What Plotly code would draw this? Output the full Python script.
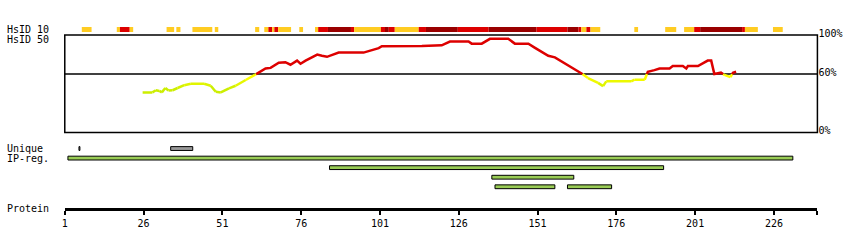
import plotly.graph_objects as go

# ---------------- data ----------------
# identity profile (HsID 50) breakpoints: residue, percent
prof_res = [25.7, 28.8, 29.9, 31.0, 31.8, 32.9, 33.9, 35.2, 36.8, 38.9, 41.0, 45.2, 47.3, 48.9,
            50.5, 53.1, 55.2, 58.4, 61.3, 62.6, 64.7, 66.3, 68.9, 71.0, 72.6, 74.7, 75.8, 77.4,
            81.1, 82.6, 84.2, 87.9, 95.8, 100.6, 101.6, 114.3, 120.6, 123.2, 129.1, 130.1, 133.3,
            135.9, 141.7, 143.8, 148.1, 150.2, 154.4, 156.5, 160.7, 164.9, 167.0, 170.2, 171.8,
            172.8, 180.7, 181.8, 185.0, 186.0, 188.1, 189.7, 192.9, 193.9, 197.1, 198.2, 198.7,
            201.9, 205.0, 206.1, 207.1, 208.7, 209.2, 210.3, 212.2, 213.0, 214.0]
prof_val = [41.2, 41.2, 43.4, 42.7, 41.2, 45.7, 43.1, 43.4, 45.7, 48.6, 50.0, 50.0, 48.0, 41.8,
            41.2, 45.4, 48.0, 53.9, 59.1, 61.8, 65.7, 66.3, 71.6, 72.2, 69.6, 73.8, 70.6, 73.8,
            80.0, 78.7, 77.7, 82.0, 82.0, 86.6, 88.5, 88.8, 89.5, 93.4, 93.4, 91.2, 91.2,
            96.1, 96.1, 91.2, 91.2, 86.9, 78.7, 77.1, 68.9, 60.8, 55.9, 51.0, 47.6,
            52.5, 52.5, 54.2, 54.2, 62.4, 64.0, 65.7, 65.7, 68.2, 68.2, 65.7, 68.2,
            68.2, 73.8, 73.8, 60.1, 60.8, 61.4, 59.1, 56.9, 61.4, 62.4]
threshold = 60

# HsID 10 strip: start, end, level (1 = moderate, 2 = high, 3 = very high)
strip_start = [6.4, 17.5, 18.5, 21.6, 33.3, 36.4, 41.5, 48.6, 61.4, 64.3, 65.6, 66.8, 67.5, 68.7,
               75.4, 80.4, 81.4, 84.5, 91.8, 92.8, 101.3, 102.6, 103.8, 105.7, 113.3, 115.6,
               125.7, 135.5, 150.7, 160.5, 164.0, 164.9, 166.5, 167.8, 181.7, 191.5, 197.5,
               200.7, 202.6, 215.9, 216.8, 225.7]
strip_end = [9.5, 18.5, 21.6, 22.7, 35.7, 37.7, 47.8, 49.7, 62.7, 65.6, 66.8, 67.5, 68.7, 72.8,
             76.6, 81.4, 84.5, 91.8, 92.8, 101.3, 102.6, 103.8, 105.7, 113.3, 115.6, 125.7,
             135.5, 150.7, 160.5, 164.0, 164.9, 166.5, 167.8, 170.9, 182.9, 195.0, 200.7,
             202.6, 215.9, 216.8, 220.9, 228.8]
strip_level = [1, 1, 2, 1, 1, 1, 1, 1, 1, 1, 2, 1, 2, 1,
               1, 1, 2, 3, 2, 1, 2, 3, 2, 1, 2, 3,
               2, 3, 2, 3, 2, 1, 2, 1, 1, 1, 1,
               2, 3, 2, 1, 1]

# unique regions
uniq_start = [5.5, 34.6]
uniq_end = [5.8, 41.6]

# IP regions: start, end, row
ip_start = [2.0, 85.0, 136.5, 137.5, 160.5]
ip_end = [232.0, 191.0, 162.5, 156.5, 174.5]
ip_row = [1, 2, 3, 4, 4]

tick_vals = [1, 26, 51, 76, 101, 126, 151, 176, 201, 226]
protein_len = 239.8

# ---------------- styling ----------------
FONT = "DejaVu Sans Mono"
W, H = 850, 250
RED = "#DD0000"
DARK = "#990000"
YEL = "#FFCC22"
GREEN = "#99CC55"
level_color = {1: YEL, 2: RED, 3: DARK}


def py(p):  # pixel row -> paper
    return 1 - p / H


def mix(c1, c2, t):
    t = max(0.0, min(1.0, t))
    a = [int(c1[i:i + 2], 16) for i in (1, 3, 5)]
    b = [int(c2[i:i + 2], 16) for i in (1, 3, 5)]
    return "#%02X%02X%02X" % tuple(round(a[k] + (b[k] - a[k]) * t) for k in range(3))


fig = go.Figure()

# ---- profile line, split at threshold, colored by value ----
segs = []
for i in range(len(prof_res) - 1):
    x0, x1 = prof_res[i], prof_res[i + 1]
    v0, v1 = prof_val[i], prof_val[i + 1]
    if (v0 - threshold) * (v1 - threshold) < 0:
        t = (threshold - v0) / (v1 - v0)
        xm = x0 + t * (x1 - x0)
        segs.append((x0, v0, xm, threshold))
        segs.append((xm, threshold, x1, v1))
    else:
        segs.append((x0, v0, x1, v1))

red_x, red_y = [], []
for (x0, v0, x1, v1) in segs:
    m = (v0 + v1) / 2
    if m >= threshold:
        if red_x and red_x[-1] == x0:
            red_x.append(x1); red_y.append(v1)
        else:
            if red_x:
                red_x.append(None); red_y.append(None)
            red_x += [x0, x1]; red_y += [v0, v1]
    else:
        col = mix("#CCEE00", "#FFFF00", (m - 45) / 12)
        fig.add_trace(go.Scatter(x=[x0, x1], y=[v0, v1], mode="lines",
                                 line=dict(color=col, width=2.5),
                                 xaxis="x", yaxis="y", showlegend=False, hoverinfo="skip"))
fig.add_trace(go.Scatter(x=red_x, y=red_y, mode="lines", line=dict(color=RED, width=2.5),
                         xaxis="x", yaxis="y", showlegend=False, hoverinfo="skip",
                         connectgaps=False))

# ---- HsID 10 strip ----
fig.add_trace(go.Bar(orientation="h", base=strip_start,
                     x=[e - s for s, e in zip(strip_start, strip_end)],
                     y=[0] * len(strip_start), width=1,
                     marker=dict(color=[level_color[l] for l in strip_level], line=dict(width=0)),
                     xaxis="x", yaxis="y2", showlegend=False, hoverinfo="skip"))

# ---- unique + IP tracks ----
fig.add_trace(go.Bar(orientation="h", base=uniq_start,
                     x=[e - s for s, e in zip(uniq_start, uniq_end)],
                     y=[0] * len(uniq_start), width=0.4,
                     marker=dict(color="#999999", line=dict(color="black", width=1)),
                     xaxis="x", yaxis="y3", showlegend=False, hoverinfo="skip"))
fig.add_trace(go.Bar(orientation="h", base=ip_start,
                     x=[e - s for s, e in zip(ip_start, ip_end)],
                     y=ip_row, width=0.4,
                     marker=dict(color=GREEN, line=dict(color="black", width=1)),
                     xaxis="x", yaxis="y3", showlegend=False, hoverinfo="skip"))

x_left, x_right = 62, 817.3

fig.update_layout(
    width=W, height=H, margin=dict(l=0, r=0, t=0, b=0),
    paper_bgcolor="white", plot_bgcolor="rgba(0,0,0,0)",
    barmode="overlay", showlegend=False,
    font=dict(family=FONT, size=10, color="black"),
    xaxis=dict(domain=[x_left / W, x_right / W], range=[1, protein_len],
               anchor="free", position=py(210), side="bottom",
               showline=True, linecolor="black", linewidth=3,
               ticks="outside", ticklen=4, tickwidth=2, tickcolor="black",
               tickvals=tick_vals + [protein_len],
               ticktext=[str(v) for v in tick_vals] + [""],
               tickfont=dict(family=FONT, size=10, color="black"),
               showgrid=False, zeroline=False, fixedrange=True),
    yaxis=dict(domain=[py(130.3), py(28.3)], range=[0, 100], side="right",
               tickvals=[0, 60, 100], ticktext=["0%", "60%", "100%"],
               ticks="", showgrid=False, zeroline=False, showline=False,
               ticklabelshift=-2,
               tickfont=dict(family=FONT, size=10, color="black")),
    yaxis2=dict(domain=[py(25), py(20)], range=[-0.5, 0.5], visible=False),
    yaxis3=dict(domain=[py(192), py(142)], range=[4.5, -0.5], visible=False),
)

# frame box and threshold line
fig.add_shape(type="rect", xref="x domain", yref="y domain", x0=0, x1=1, y0=0, y1=1,
              line=dict(color="black", width=1.5), fillcolor="rgba(0,0,0,0)", layer="above")
fig.add_shape(type="line", xref="x domain", yref="y", x0=0, x1=1, y0=threshold, y1=threshold,
              line=dict(color="black", width=1.5), layer="below")

labels = [("HsID 10", 22.5), ("HsID 50", 32.5), ("Unique", 147), ("IP-reg.", 157),
          ("Protein", 210)]
for txt, yy in labels:
    fig.add_annotation(text=txt, xref="paper", yref="paper", x=2 / W, y=py(yy),
                       xanchor="left", yanchor="middle", showarrow=False,
                       font=dict(family=FONT, size=10, color="black"))

fig.write_html("out.html")
